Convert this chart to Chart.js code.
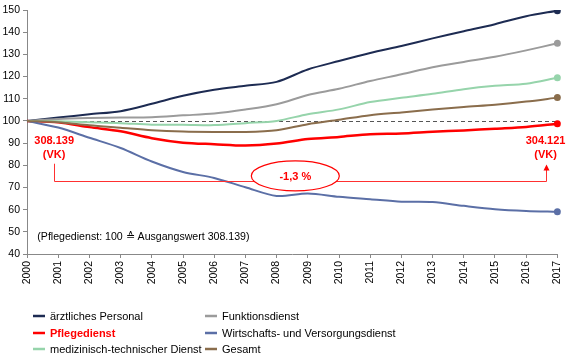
<!DOCTYPE html>
<html><head><meta charset="utf-8">
<script src="https://cdn.jsdelivr.net/npm/chart.js@4.4.1/dist/chart.umd.min.js"></script>
<style>html,body{margin:0;padding:0;background:#fff;}#wrap{width:573px;height:358px;position:relative;}</style>
</head><body><div id="wrap"><canvas id="c" width="573" height="358"></canvas></div>
<script>
const years = ["2000","2001","2002","2003","2004","2005","2006","2007","2008","2009","2010","2011","2012","2013","2014","2015","2016","2017"];
const yTicks = [40,50,60,70,80,90,100,110,120,130,140,150];
const aerztlich = [100,101.5,103,104.4,107.7,111.3,114,115.8,117.6,123.2,127,130.6,133.8,137.2,140.4,143.6,147.2,149.7];
const funktion = [100,100.9,101.3,101.5,101.7,102.5,103.3,105.1,107.5,111.7,114.5,118,121,124.2,126.6,128.9,131.8,135];
const medtech = [100,99.8,99.4,99,98.3,98.3,98.1,99,100,103,105.2,108.5,110.4,112.2,114.3,115.8,116.8,119.5];
const gesamt = [100,99.4,98,96.9,95.8,95.2,95,95,95.8,98.5,100.5,102.6,103.8,105.1,106.3,107.3,108.7,110.5];
const pflege = [100,99.4,97.2,95.3,92.2,90.2,89.5,88.9,89.8,91.8,92.8,94,94.3,95.1,95.7,96.5,97.3,98.7];
const wirtschaft = [100,97,92.4,87.8,81.7,77,74.3,70.1,66.2,67.3,65.8,64.7,63.6,63.4,61.7,60.2,59.4,59];
const seriesNames = ["ärztliches Personal","Funktionsdienst","Pflegedienst","Wirtschafts- und Versorgungsdienst","medizinisch-technischer Dienst","Gesamt"];
const baseValue = 100;
const startVK = "308.139";
const endVK = "304.121";
const changeLabel = "-1,3 %";
const noteText = "(Pflegedienst: 100 \u2259 Ausgangswert 308.139)";

const FONT = "'Liberation Sans', Arial, sans-serif";
const colors = {
  aerztlich: '#1d2b52', funktion: '#9b9b9b', pflege: '#ff0000',
  wirtschaft: '#5b6fa6', medtech: '#96d4ab', gesamt: '#8a6d4c'
};
const lastOnly = (ctx) => ctx.dataIndex === years.length - 1 ? 3.5 : 0;
function ds(label, data, color, width) {
  return { label, data, borderColor: color, backgroundColor: color, borderWidth: width,
    pointRadius: lastOnly, pointHoverRadius: lastOnly, pointBorderWidth: 0, tension: 0.3, fill: false };
}

const overlay = {
  id: 'overlay',
  beforeDatasetsDraw(chart) {
    const {ctx, scales:{x,y}} = chart;
    ctx.save();
    ctx.strokeStyle = '#555'; ctx.lineWidth = 1; ctx.setLineDash([4,3]);
    const yy = Math.round(y.getPixelForValue(baseValue)) + 0.5;
    ctx.beginPath(); ctx.moveTo(x.getPixelForValue(0), yy); ctx.lineTo(x.getPixelForValue(years.length-1), yy); ctx.stroke();
    ctx.restore();
  },
  afterDraw(chart) {
    const {ctx, scales:{x,y}} = chart;
    ctx.save();
    // bracket
    const xl = x.getPixelForValue(0.87), xr = x.getPixelForValue(16.62);
    const yTop = y.getPixelForValue(80.7), yH = Math.round(y.getPixelForValue(73)) + 0.5, yTip = y.getPixelForValue(80.3);
    ctx.strokeStyle = '#ff3030'; ctx.lineWidth = 1;
    ctx.beginPath(); ctx.moveTo(Math.round(xl)+0.5, yTop); ctx.lineTo(Math.round(xl)+0.5, yH); ctx.lineTo(Math.round(xr)+0.5, yH); ctx.lineTo(Math.round(xr)+0.5, yTip+4); ctx.stroke();
    ctx.fillStyle = '#ff0000';
    ctx.beginPath(); ctx.moveTo(Math.round(xr)+0.5, yTip); ctx.lineTo(Math.round(xr)-2.5, yTip+6); ctx.lineTo(Math.round(xr)+3.5, yTip+6); ctx.closePath(); ctx.fill();
    // VK labels
    ctx.fillStyle = '#ff0000'; ctx.font = 'bold 11px ' + FONT; ctx.textAlign = 'center'; ctx.textBaseline = 'middle';
    ctx.fillText(startVK, xl, y.getPixelForValue(91));
    ctx.fillText('(VK)', xl, y.getPixelForValue(84.6));
    ctx.fillText(endVK, xr, y.getPixelForValue(91));
    ctx.fillText('(VK)', xr, y.getPixelForValue(84.6));
    // ellipse
    const ex = x.getPixelForValue(8.6), ey = y.getPixelForValue(75.2);
    ctx.fillStyle = '#fff'; ctx.strokeStyle = '#ff0000'; ctx.lineWidth = 1.2;
    ctx.beginPath(); ctx.ellipse(ex, ey, 44, 15, 0, 0, Math.PI*2); ctx.fill(); ctx.stroke();
    ctx.fillStyle = '#ff0000'; ctx.font = 'bold 11px ' + FONT;
    ctx.fillText(changeLabel, ex, ey + 1);
    // note
    ctx.fillStyle = '#000'; ctx.font = '10.6px ' + FONT; ctx.textAlign = 'left';
    ctx.fillText(noteText, x.getPixelForValue(0.33), y.getPixelForValue(47.8));
    // legend
    const items = [
      [seriesNames[0], colors.aerztlich, 33, 316, false],
      [seriesNames[1], colors.funktion, 205, 316, false],
      [seriesNames[2], colors.pflege, 33, 333, true],
      [seriesNames[3], colors.wirtschaft, 205, 333, false],
      [seriesNames[4], colors.medtech, 33, 349, false],
      [seriesNames[5], colors.gesamt, 205, 349, false]
    ];
    ctx.textBaseline = 'middle';
    items.forEach(([t,c,lx,ly,bold]) => {
      ctx.strokeStyle = c; ctx.lineWidth = 2.5; ctx.setLineDash([]);
      ctx.beginPath(); ctx.moveTo(lx, ly); ctx.lineTo(lx+12, ly); ctx.stroke();
      ctx.fillStyle = bold ? '#ff0000' : '#000';
      ctx.font = (bold ? 'bold ' : '') + '11px ' + FONT;
      ctx.fillText(t, lx + 17, ly + 0.5);
    });
    ctx.restore();
  }
};

new Chart(document.getElementById('c'), {
  type: 'line',
  data: {
    labels: years,
    datasets: [
      ds(seriesNames[5], gesamt, colors.gesamt, 2),
      ds(seriesNames[4], medtech, colors.medtech, 2),
      ds(seriesNames[3], wirtschaft, colors.wirtschaft, 2),
      ds(seriesNames[1], funktion, colors.funktion, 2),
      ds(seriesNames[0], aerztlich, colors.aerztlich, 2),
      ds(seriesNames[2], pflege, colors.pflege, 2.5)
    ]
  },
  options: {
    responsive: false, animation: false, devicePixelRatio: 1,
    layout: { padding: { top: 10, right: 14, bottom: 64, left: 0 } },
    plugins: { legend: { display: false }, tooltip: { enabled: false } },
    scales: {
      x: {
        type: 'category', offset: false,
        grid: { display: true, drawOnChartArea: false, drawTicks: true, tickLength: 4, color: '#888' },
        border: { display: true, color: '#888' },
        ticks: { autoSkip: false, minRotation: 90, maxRotation: 90, padding: 3, color: '#000', font: { size: 10.5, family: FONT } },
        afterFit(s) { s.height = 40; }
      },
      y: {
        min: yTicks[0], max: yTicks[yTicks.length-1],
        afterBuildTicks(s) { s.ticks = yTicks.map(v => ({ value: v })); },
        grid: { display: true, drawOnChartArea: false, drawTicks: true, tickLength: 4, color: '#888' },
        border: { display: true, color: '#888' },
        ticks: { padding: 3, color: '#000', font: { size: 10.5, family: FONT } },
        afterFit(s) { s.width = 27; }
      }
    }
  },
  plugins: [overlay]
});
</script></body></html>
